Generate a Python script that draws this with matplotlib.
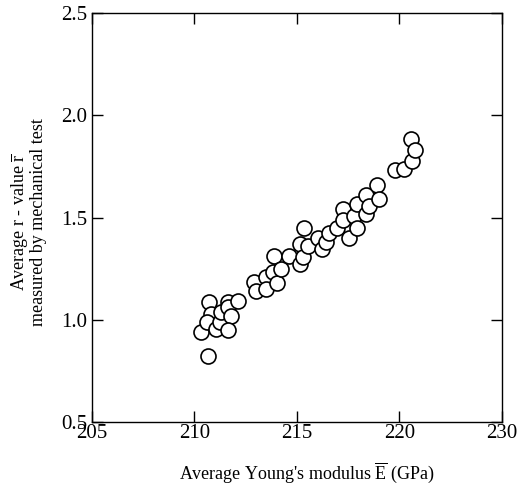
import matplotlib
matplotlib.use("Agg")
import matplotlib.pyplot as plt

plt.rcParams['font.family'] = ['Liberation Serif', 'DejaVu Serif']
plt.rcParams['mathtext.fontset'] = 'custom'
plt.rcParams['mathtext.rm'] = 'Liberation Serif'
plt.rcParams['mathtext.it'] = 'Liberation Serif:italic'
plt.rcParams['mathtext.bf'] = 'Liberation Serif:bold'

# Average Young's modulus (GPa)
young_modulus = [
    210.33, 210.67, 210.71, 210.83, 210.64, 211.05, 211.27, 211.32, 211.63, 211.63,
    211.80, 211.65, 212.14,
    212.92, 213.01, 213.49, 213.52, 213.83, 213.91, 214.04, 214.23, 214.61, 215.15,
    215.15, 215.29, 215.37, 215.57,
    216.02, 216.22, 216.44, 216.59, 216.98, 217.27, 217.24, 217.57, 217.80, 217.93,
    217.93, 218.38, 218.38, 218.54, 218.90, 219.00,
    219.80, 220.25, 220.64, 220.56, 220.79,
]
# Average r-value measured by mechanical test
r_value = [
    0.938, 0.823, 1.088, 1.026, 0.990, 0.952, 0.990, 1.039, 1.088, 1.063,
    1.018, 0.949, 1.093,
    1.186, 1.142, 1.207, 1.151, 1.235, 1.311, 1.178, 1.249, 1.311, 1.271,
    1.370, 1.305, 1.450, 1.362,
    1.398, 1.344, 1.381, 1.423, 1.447, 1.540, 1.488, 1.398, 1.507, 1.450,
    1.566, 1.517, 1.612, 1.556, 1.658, 1.589,
    1.734, 1.737, 1.775, 1.883, 1.832,
]

x_ticks = [205, 210, 215, 220, 225]
x_tick_labels = ['205', '210', '215', '220', '230']
y_ticks = [0.5, 1.0, 1.5, 2.0, 2.5]
y_tick_labels = ['0.5', '1.0', '1.5', '2.0', '2.5']

fig = plt.figure(figsize=(5.17, 4.84), dpi=100)
ax = fig.add_axes([0.1774, 0.1287, 0.7930, 0.8438])

ax.plot(young_modulus, r_value, linestyle='none', marker='o', ms=10.8,
        mfc='white', mec='black', mew=1.2)

ax.set_xlim(205, 225)
ax.set_ylim(0.5, 2.5)
ax.set_xticks(x_ticks)
ax.set_xticklabels(x_tick_labels)
ax.set_yticks(y_ticks)
ax.set_yticklabels(y_tick_labels)

ax.tick_params(direction='in', length=8, width=1.0, labelsize=15,
               top=True, right=True, pad=3, colors='black')
ax.tick_params(axis='x', pad=2)
for sp in ax.spines.values():
    sp.set_linewidth(1.0)

ax.set_xlabel(r"Average Young's modulus $\overline{\mathrm{E}}$ (GPa)", fontsize=13)
ax.xaxis.set_label_coords(0.525, -0.095)
ax.set_ylabel("Average r - value $\\overline{\\mathrm{r}}$\nmeasured by mechanical test",
              fontsize=13, linespacing=0.95)
ax.yaxis.set_label_coords(-0.108, 0.49)

fig.savefig("out.png", dpi=100)
